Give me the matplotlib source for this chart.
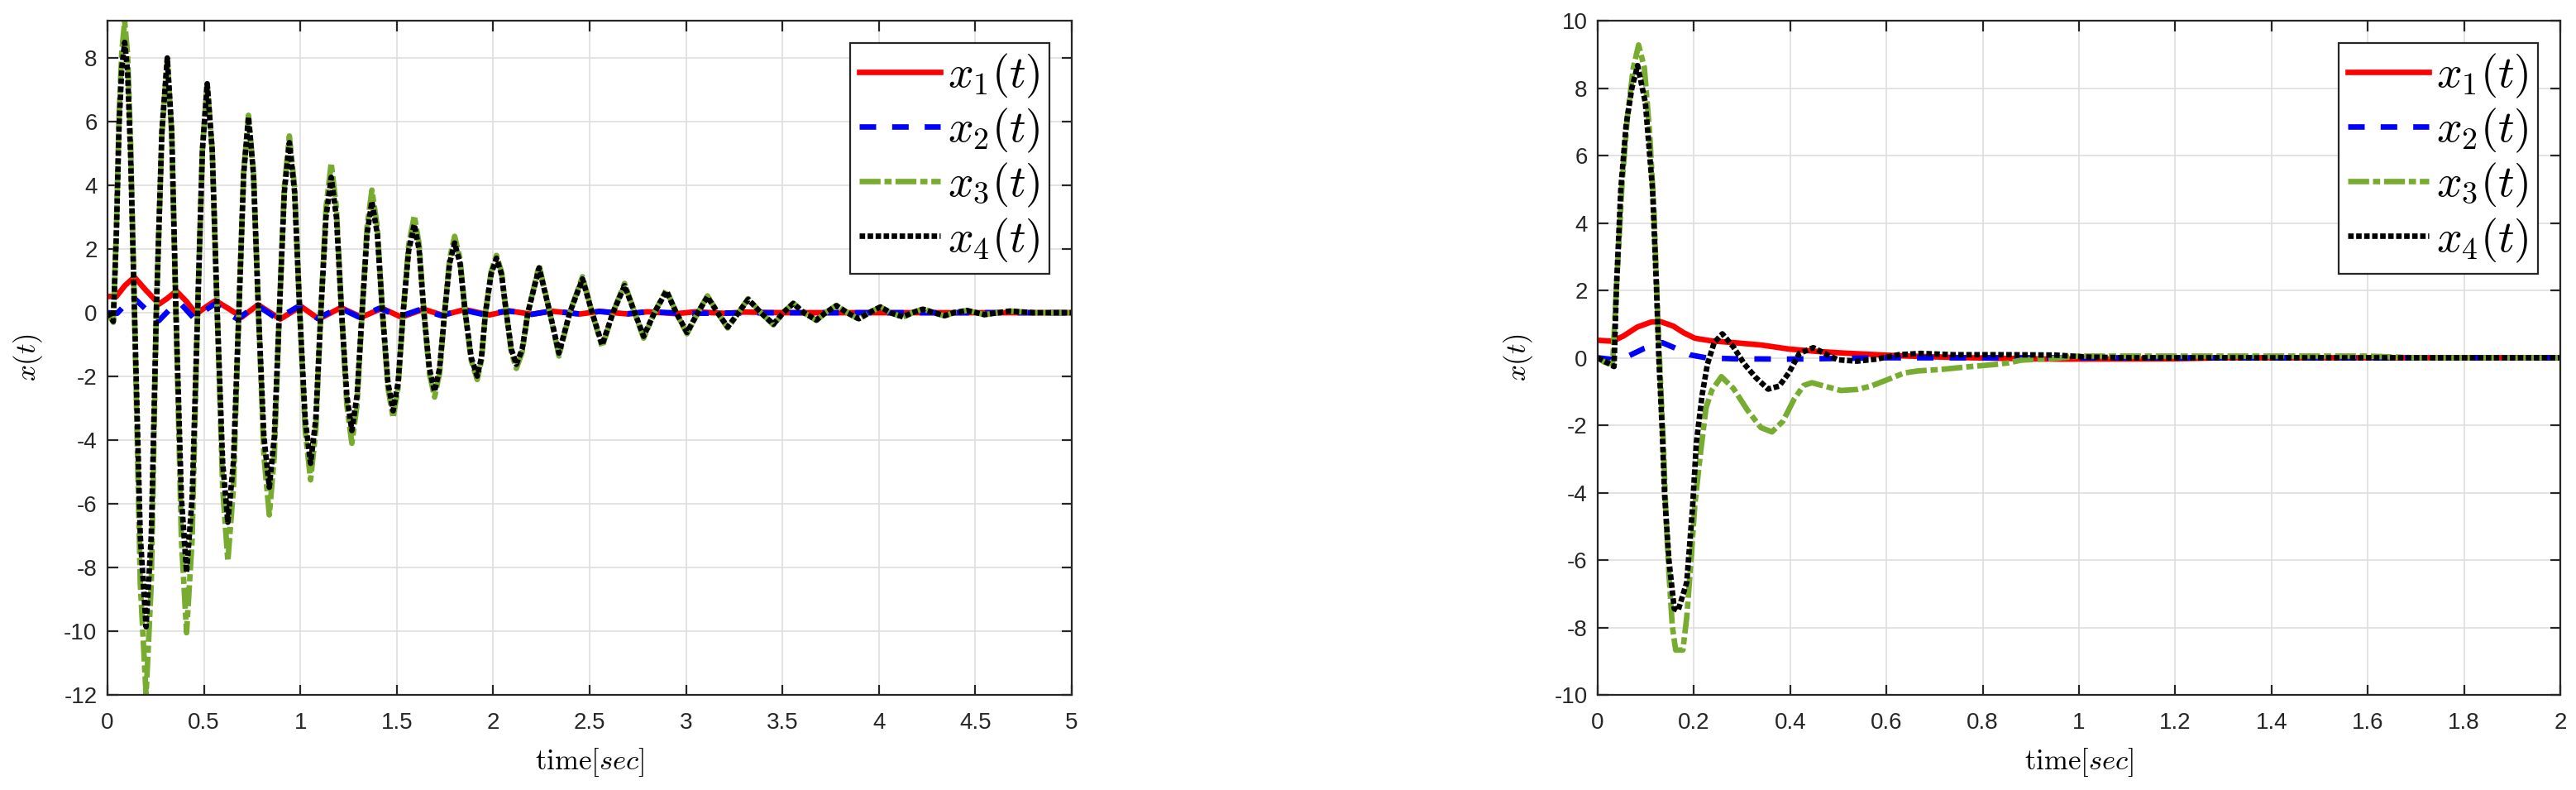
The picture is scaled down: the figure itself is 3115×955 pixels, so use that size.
import numpy as np
from matplotlib import pyplot as plt
from matplotlib.ticker import FuncFormatter, MultipleLocator

plt.rcParams['mathtext.fontset'] = 'cm'
plt.rcParams['font.family'] = ['Liberation Sans', 'DejaVu Sans']

#Left panel: states over 0..5 s (x3, x4 share the same time samples)
t_left = [
    0.000, 0.015, 0.030, 0.046, 0.060, 0.074, 0.089, 0.104, 0.120,
    0.140, 0.170, 0.200, 0.227, 0.253, 0.282, 0.310, 0.333,
    0.355, 0.383, 0.410, 0.439, 0.467, 0.492, 0.517, 0.543,
    0.569, 0.597, 0.624, 0.653, 0.681, 0.706, 0.731, 0.757,
    0.783, 0.811, 0.839, 0.865, 0.891, 0.917, 0.943, 0.970,
    0.997, 1.025, 1.053, 1.080, 1.106, 1.133, 1.160, 1.187,
    1.214, 1.241, 1.267, 1.294, 1.320, 1.346, 1.371, 1.399,
    1.426, 1.454, 1.481, 1.507, 1.533, 1.562, 1.591, 1.616,
    1.641, 1.669, 1.696, 1.722, 1.748, 1.774, 1.800, 1.828,
    1.855, 1.886, 1.917, 1.939, 1.960, 1.989, 2.017, 2.043,
    2.068, 2.094, 2.120, 2.150, 2.180,
    2.238, 2.294, 2.341, 2.397, 2.463, 2.513, 2.565, 2.621,
    2.681, 2.734, 2.780, 2.836, 2.898, 2.949, 3.005, 3.061,
    3.111, 3.164, 3.216, 3.272, 3.322, 3.388, 3.453, 3.504,
    3.556, 3.611, 3.676, 3.723, 3.780, 3.836, 3.896, 3.949,
    4.008, 4.060, 4.125, 4.173, 4.229, 4.285, 4.341, 4.388,
    4.457, 4.547, 4.678, 4.800, 5.000]

x3_left = [
    0.00, -0.15, -0.30, 2.60, 6.20, 8.20, 9.15, 8.15, 5.30,
    0.00, -8.50, -12.00, -8.50, 0.00, 5.60, 7.95, 5.60,
    0.00, -7.10, -10.05, -7.10, 0.00, 5.10, 7.20, 5.10,
    0.00, -5.50, -7.80, -5.50, 0.00, 4.40, 6.20, 4.40,
    0.00, -4.50, -6.35, -4.50, 0.00, 3.95, 5.55, 3.95,
    0.00, -3.70, -5.25, -3.70, 0.00, 3.30, 4.70, 3.30,
    0.00, -2.90, -4.10, -2.90, 0.00, 2.70, 3.85, 2.70,
    0.00, -2.35, -3.30, -2.35, 0.00, 2.15, 3.05, 2.15,
    0.00, -1.90, -2.65, -1.90, 0.00, 1.70, 2.40, 1.70,
    0.00, -1.50, -2.10, -1.50, 0.00, 1.28, 1.80, 1.28,
    0.00, -1.24, -1.75, -1.24, 0.00,
    1.48, 0.00, -1.36, 0.00, 1.13, 0.00, -1.08, 0.00,
    0.92, 0.00, -0.80, 0.00, 0.72, 0.00, -0.66, 0.00,
    0.53, 0.00, -0.48, 0.00, 0.44, 0.00, -0.38, 0.00,
    0.30, 0.00, -0.24, 0.00, 0.23, 0.00, -0.20, 0.00,
    0.18, 0.00, -0.14, 0.00, 0.12, 0.00, -0.10, 0.00,
    0.07, -0.06, 0.05, 0.00, 0.00]

x4_left = [
    0.00, -0.10, -0.27, 2.47, 5.90, 7.67, 8.49, 7.60, 4.90,
    0.00, -7.00, -9.86, -7.00, 0.00, 5.70, 8.00, 5.70,
    0.00, -5.80, -8.15, -5.80, 0.00, 5.10, 7.19, 5.10,
    0.00, -4.70, -6.58, -4.70, 0.00, 4.35, 6.14, 4.35,
    0.00, -3.90, -5.48, -3.90, 0.00, 3.80, 5.34, 3.80,
    0.00, -3.35, -4.73, -3.35, 0.00, 3.00, 4.25, 3.00,
    0.00, -2.60, -3.70, -2.60, 0.00, 2.48, 3.49, 2.48,
    0.00, -2.19, -3.08, -2.19, 0.00, 1.97, 2.77, 1.97,
    0.00, -1.75, -2.47, -1.75, 0.00, 1.55, 2.19, 1.55,
    0.00, -1.41, -1.99, -1.41, 0.00, 1.21, 1.71, 1.21,
    0.00, -1.15, -1.62, -1.15, 0.00,
    1.41, 0.00, -1.27, 0.00, 1.06, 0.00, -1.01, 0.00,
    0.85, 0.00, -0.74, 0.00, 0.68, 0.00, -0.62, 0.00,
    0.50, 0.00, -0.45, 0.00, 0.42, 0.00, -0.36, 0.00,
    0.29, 0.00, -0.23, 0.00, 0.22, 0.00, -0.19, 0.00,
    0.18, 0.00, -0.13, 0.00, 0.11, 0.00, -0.09, 0.00,
    0.07, -0.06, 0.05, 0.00, 0.00]

t1_left = [0.000, 0.046, 0.090, 0.139, 0.200, 0.267, 0.310, 0.357, 0.410, 0.460,
           0.510, 0.560, 0.630, 0.696, 0.781, 0.896, 1.003, 1.096, 1.210, 1.317,
           1.424, 1.524, 1.639, 1.739, 1.853, 1.980, 2.080, 2.200, 2.300, 2.450,
           2.550, 2.700, 2.800, 2.950, 3.050, 3.200, 3.300, 3.500, 5.000]
x1_left = [0.51, 0.51, 0.85, 1.12, 0.70, 0.27, 0.45, 0.68, 0.35, -0.04,
           0.18, 0.38, 0.12, -0.14, 0.25, -0.20, 0.20, -0.20, 0.16, -0.14,
           0.14, -0.14, 0.11, -0.08, 0.10, -0.07, 0.06, -0.05, 0.05, -0.04,
           0.04, -0.04, 0.03, -0.03, 0.03, -0.02, 0.02, 0.00, 0.00]

t2_left = [0.000, 0.050, 0.131, 0.200, 0.266, 0.330, 0.380, 0.446, 0.553, 0.674,
           0.774, 0.880, 0.990, 1.090, 1.200, 1.305, 1.410, 1.515, 1.625, 1.730,
           1.840, 1.960, 2.070, 2.200, 2.300, 2.450, 2.550, 2.700, 2.800, 3.000,
           3.500, 5.000]
x2_left = [0.00, -0.02, 0.50, 0.10, -0.25, 0.15, 0.28, -0.16, 0.26, -0.20,
           0.24, -0.19, 0.20, -0.18, 0.16, -0.14, 0.14, -0.12, 0.11, -0.09,
           0.09, -0.07, 0.06, -0.05, 0.05, -0.04, 0.04, -0.03, 0.03, -0.02,
           0.00, 0.00]

#Right panel: states over 0..2 s
t1_right = [0.000, 0.031, 0.054, 0.082, 0.111, 0.131, 0.157, 0.179, 0.202, 0.237,
            0.282, 0.339, 0.397, 0.454, 0.511, 0.568, 0.625, 0.739, 0.854, 0.950,
            1.200, 1.300, 2.000]
x1_right = [0.52, 0.49, 0.65, 0.91, 1.06, 1.07, 0.94, 0.74, 0.58, 0.50,
            0.45, 0.38, 0.26, 0.19, 0.14, 0.10, 0.06, 0.01, -0.02, -0.04,
            -0.03, 0.00, 0.00]

t2_right = [0.000, 0.031, 0.065, 0.097, 0.134, 0.159, 0.191, 0.225, 0.282, 0.397,
            0.600, 2.000]
x2_right = [0.00, -0.05, 0.06, 0.28, 0.45, 0.30, 0.09, 0.00, -0.03, -0.04,
            0.00, 0.00]

t3_right = [0.000, 0.014, 0.031, 0.039, 0.051, 0.062, 0.074, 0.085, 0.097, 0.108,
            0.117, 0.125, 0.131, 0.137, 0.142, 0.148, 0.155, 0.162, 0.177, 0.185,
            0.194, 0.202, 0.214, 0.225, 0.237, 0.257, 0.282, 0.311, 0.339, 0.362,
            0.385, 0.408, 0.428, 0.445, 0.471, 0.505, 0.539, 0.568, 0.602, 0.637,
            0.665, 0.711, 0.768, 0.825, 0.854, 0.880, 0.950, 1.000, 1.600, 1.700,
            2.000]
x3_right = [0.00, -0.13, -0.19, 2.10, 5.24, 7.18, 8.60, 9.28, 8.60, 6.66,
            4.33, 1.10, -0.84, -2.78, -4.72, -6.40, -7.96, -8.67, -8.67, -7.70,
            -6.00, -4.33, -2.78, -1.49, -0.97, -0.56, -0.91, -1.55, -2.07, -2.20,
            -1.88, -1.23, -0.82, -0.74, -0.84, -0.97, -0.94, -0.84, -0.65, -0.45,
            -0.39, -0.35, -0.27, -0.20, -0.15, -0.07, -0.02, 0.05, 0.05, 0.00,
            0.00]

t4_right = [0.000, 0.020, 0.034, 0.039, 0.048, 0.059, 0.071, 0.083, 0.099, 0.114,
            0.122, 0.127, 0.134, 0.139, 0.148, 0.159, 0.167, 0.185, 0.197, 0.205,
            0.217, 0.228, 0.242, 0.259, 0.282, 0.305, 0.328, 0.354, 0.377, 0.397,
            0.419, 0.448, 0.477, 0.499, 0.539, 0.579, 0.625, 0.671, 0.739, 0.854,
            0.950, 1.020, 1.100, 2.000]
x4_right = [0.00, -0.15, -0.26, 2.10, 5.00, 6.90, 8.00, 8.67, 7.57, 4.98,
            2.13, 0.00, -2.13, -4.07, -6.00, -7.44, -7.50, -6.66, -4.46, -2.52,
            -1.10, -0.19, 0.45, 0.71, 0.32, -0.19, -0.58, -0.93, -0.84, -0.45,
            0.13, 0.30, 0.09, -0.06, -0.10, -0.04, 0.09, 0.13, 0.09, 0.09,
            0.08, 0.02, 0.00, 0.00]

labels = [r'$x_1(t)$', r'$x_2(t)$', r'$x_3(t)$', r'$x_4(t)$']
colors = ['#ff0000', '#0000ff', '#77ac30', '#000000']
styles = ['-', (0, (3.0, 2.9)), (0, (3.8, 0.7, 1.3, 0.7)), (0, (1.0, 0.45))]
LW = 4.8
AX_GRAY = '#262626'


def style_axes(ax, xmax, xstep, ymin, ymax, ystep):
    """Matlab-like box axes with grid and inward ticks"""
    ax.set_xlim(0, xmax)
    ax.set_ylim(ymin, ymax)
    ax.xaxis.set_major_locator(MultipleLocator(xstep))
    ax.yaxis.set_major_locator(MultipleLocator(ystep))
    fmt = FuncFormatter(lambda v, p: '%g' % round(v, 6))
    ax.xaxis.set_major_formatter(fmt)
    ax.yaxis.set_major_formatter(fmt)
    ax.grid(True, color='#dedede', linewidth=1.2)
    ax.set_axisbelow(True)
    for s in ax.spines.values():
        s.set_color(AX_GRAY)
        s.set_linewidth(1.6)
    ax.tick_params(direction='in', top=True, right=True, length=9, width=1.6,
                   colors=AX_GRAY, labelsize=20)
    ax.tick_params(axis='x', pad=15)
    ax.tick_params(axis='y', pad=9)
    ax.set_xlabel(r'$\mathrm{time}[sec]$', fontsize=25, labelpad=11, color='black')
    ax.set_ylabel(r'$x(t)$', fontsize=25, labelpad=17, color='black')
    leg = ax.legend(loc='upper right', fontsize=39, handlelength=1.8,
                    handletextpad=0.18, borderpad=0.2, labelspacing=0.15,
                    borderaxespad=0.5, fancybox=False, framealpha=1)
    leg.get_frame().set_edgecolor(AX_GRAY)
    leg.get_frame().set_linewidth(1.6)


fig = plt.figure(figsize=(31.15, 9.55), dpi=100)
ax1 = fig.add_axes([130 / 3115, 115 / 955, 1166 / 3115, 815 / 955])
ax2 = fig.add_axes([1932 / 3115, 115 / 955, 1164 / 3115, 815 / 955])

#Left plot
left_series = [(t1_left, x1_left), (t2_left, x2_left), (t_left, x3_left), (t_left, x4_left)]
for (tt, yy), lab, c, ls in zip(left_series, labels, colors, styles):
    ax1.plot(tt, yy, color=c, linestyle=ls, linewidth=LW, label=lab)
style_axes(ax1, 5, 0.5, -12, 9.17, 2)

#Right plot
right_series = [(t1_right, x1_right), (t2_right, x2_right), (t3_right, x3_right), (t4_right, x4_right)]
for (tt, yy), lab, c, ls in zip(right_series, labels, colors, styles):
    ax2.plot(tt, yy, color=c, linestyle=ls, linewidth=LW, label=lab)
style_axes(ax2, 2, 0.2, -10, 10, 2)

fig.savefig('out.png', dpi=100)
